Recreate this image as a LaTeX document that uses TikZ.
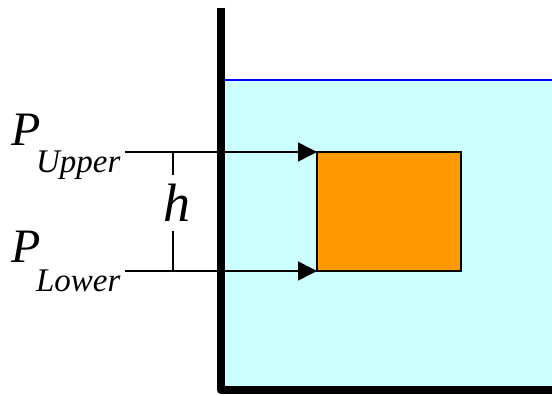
\documentclass[tikz,border=0pt]{standalone}
\usepackage{fontspec}
\setmainfont{Liberation Serif}[ItalicFont={Liberation Serif Italic}]
\usetikzlibrary{arrows.meta}
\definecolor{water}{HTML}{CCFFFF}
\definecolor{block}{HTML}{FF9900}

\begin{document}
\begin{tikzpicture}[x=1pt,y=-1pt,line width=1.6pt,
  lbl/.style={inner sep=0pt,anchor=base west,font=\rmfamily\itshape\fontsize{48}{48}\selectfont},
  push/.style={-{Triangle[length=19pt,width=19pt]}}]
  \useasboundingbox (0,0) rectangle (552,396);
  % tank and water
  \fill[water] (221,80) rectangle (552,390);
  \draw[blue,line width=2pt] (221,80) -- (552,80);
  \draw[line width=8pt,line join=round] (221,8) -- (221,390) -- (556,390);
  % submerged block
  \node[draw,fill=block,minimum width=144pt,minimum height=119pt,inner sep=0pt,outer sep=0pt,anchor=north west] (blk) at (317,152) {};
  % pressure labels and arrows
  \node[lbl] (pu) at (11,145) {P\kern-5pt\raisebox{-28pt}{\fontsize{33}{33}\selectfont Upper}};
  \node[lbl] (pl) at (11,262) {P\kern-5pt\raisebox{-29pt}{\fontsize{33}{33}\selectfont Lower}};
  \coordinate (au) at (125,152);
  \coordinate (al) at (125,271);
  \draw[push] (au) -- (au -| blk.west);
  \draw[push] (al) -- (al -| blk.west);
  % depth h
  \node[inner sep=0pt,minimum height=55pt,font=\rmfamily\itshape\fontsize{54}{54}\selectfont] (h) at (177,203) {h};
  \coordinate (hx) at (173,152);
  \draw (hx) -- (hx |- h.north);
  \draw (hx |- h.south) -- (hx |- al);
\end{tikzpicture}
\end{document}
